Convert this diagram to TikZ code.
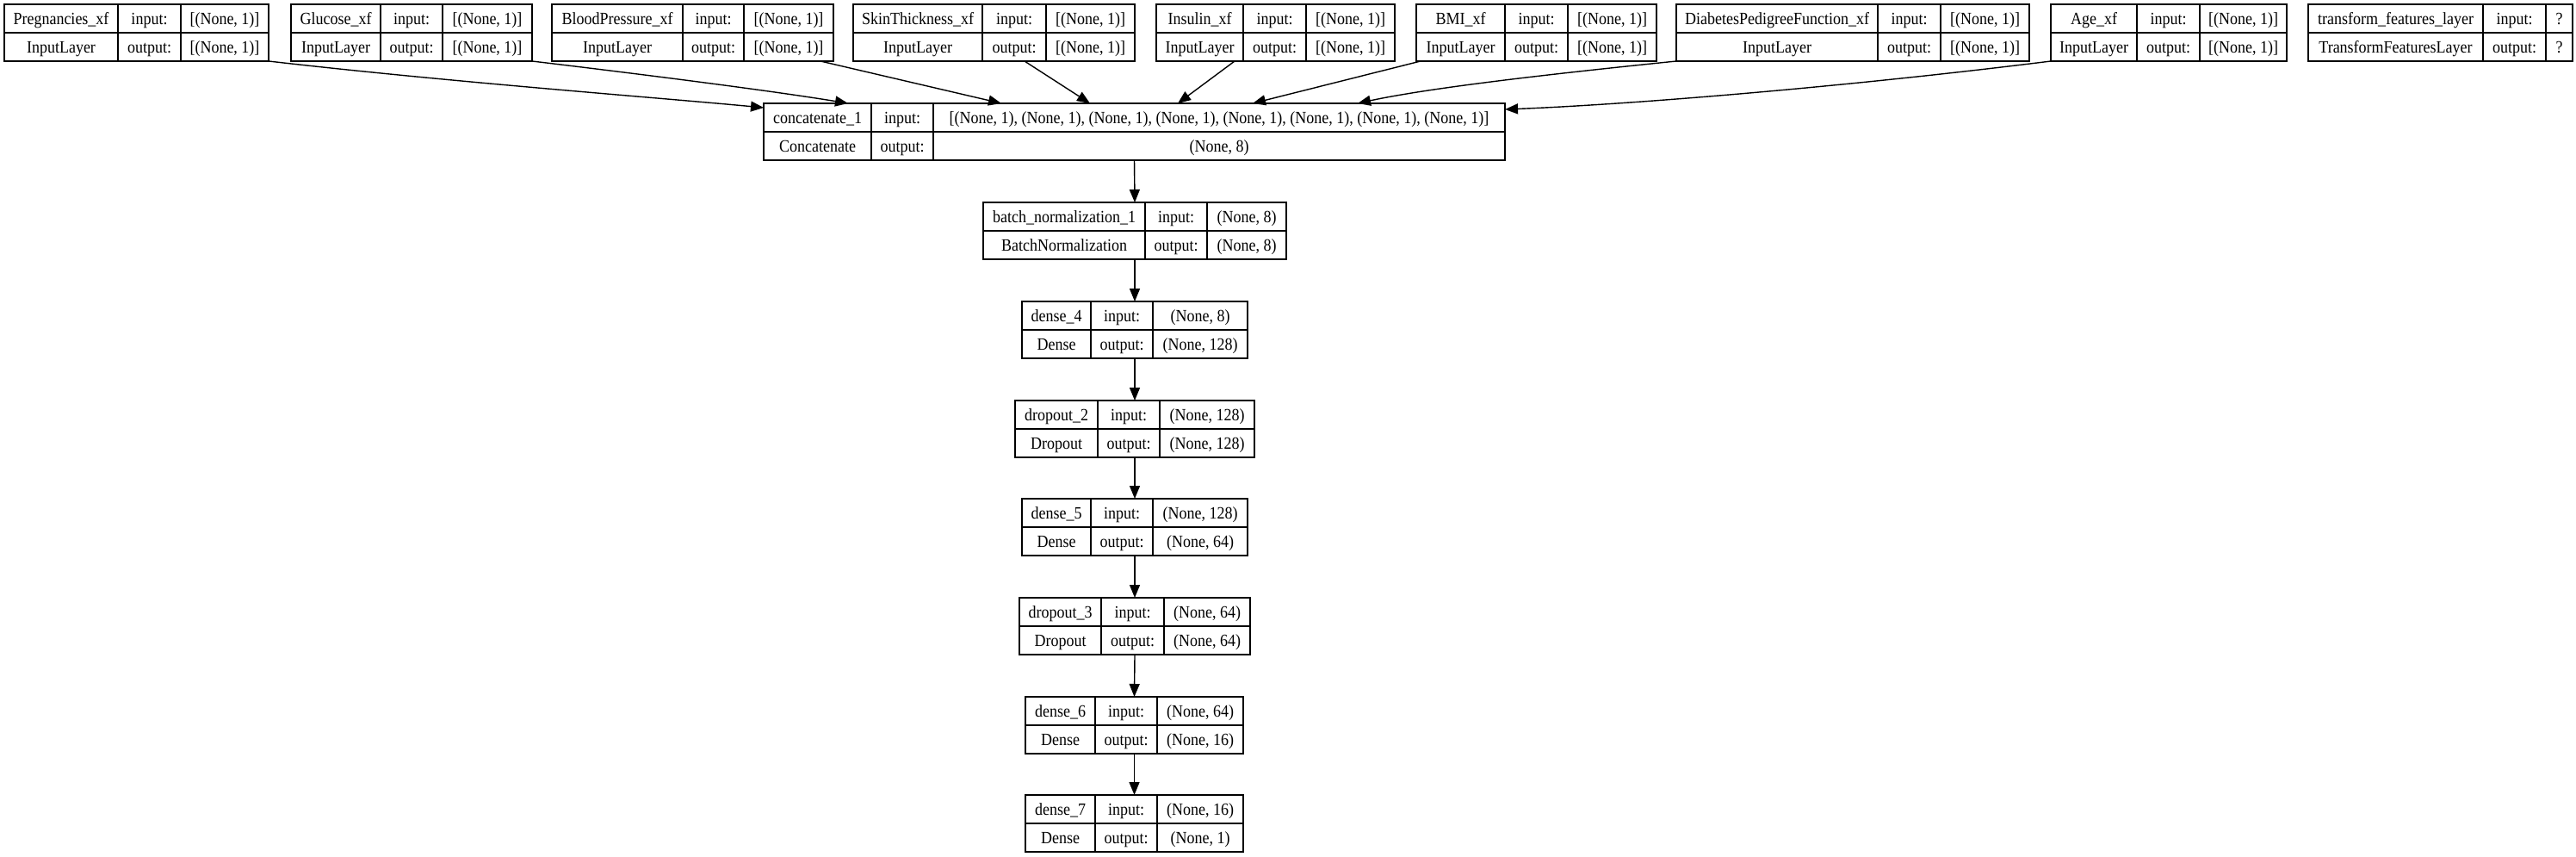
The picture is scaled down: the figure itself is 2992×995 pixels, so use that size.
\documentclass[tikz,border=0pt]{standalone}
\usepackage{fontspec}
\setmainfont{Liberation Serif}[FakeStretch=0.9]
\usetikzlibrary{arrows.meta}
\tikzset{
  lbox/.style={draw=black, line width=0.7pt, rectangle, inner sep=0pt, outer sep=0pt},
  cellline/.style={draw=black, line width=0.7pt},
  txt/.style={inner sep=0pt, font=\fontsize{10}{12}\selectfont, text height=7pt, text depth=0pt, anchor=center},
  edge/.style={draw=black, line width=0.7pt, -{Triangle[length=7.5pt,width=6pt]}},
}
\newcommand\lay[9]{\def\Ln{#1}\def\La{#2}\def\Lb{#3}\def\Lc{#4}\def\Ld{#5}\def\Ly{#6}\def\Lp{#7}\def\Lq{#8}\def\Lr{#9}\layrest}
\newcommand\layrest[1]{%
 \node[lbox, minimum width={(\Ld-\La)*0.5pt}, minimum height=33pt] (\Ln) at ({(\La+\Ld)/2},{\Ly+33}) {};
 \draw[cellline] (\Lb,\Ly) -- (\Lb,\Ly+66) (\Lc,\Ly) -- (\Lc,\Ly+66) (\La,\Ly+33) -- (\Ld,\Ly+33);
 \node[txt] (\Ln-n) at ({(\La+\Lb)/2},{\Ly+16.5}) {\Lp};
 \node[txt] (\Ln-c) at ({(\La+\Lb)/2},{\Ly+49.5}) {\Lq};
 \node[txt] (\Ln-i) at ({(\Lb+\Lc)/2},{\Ly+16.5}) {input:};
 \node[txt] (\Ln-o) at ({(\Lb+\Lc)/2},{\Ly+49.5}) {output:};
 \node[txt] (\Ln-iv) at ({(\Lc+\Ld)/2},{\Ly+16.5}) {\Lr};
 \node[txt] (\Ln-ov) at ({(\Lc+\Ld)/2},{\Ly+49.5}) {#1};
}
\begin{document}
\begin{tikzpicture}[x=0.5pt,y=-0.5pt]
\useasboundingbox (0,0) rectangle (2992,995);
% input layers
\lay{preg}{5}{137}{210}{312}{5}{Pregnancies\_xf}{InputLayer}{[(None, 1)]}{[(None, 1)]}
\lay{gluc}{338}{442}{514}{618}{5}{Glucose\_xf}{InputLayer}{[(None, 1)]}{[(None, 1)]}
\lay{bp}{641}{793}{864}{968}{5}{BloodPressure\_xf}{InputLayer}{[(None, 1)]}{[(None, 1)]}
\lay{skin}{991}{1141}{1215}{1318}{5}{SkinThickness\_xf}{InputLayer}{[(None, 1)]}{[(None, 1)]}
\lay{insu}{1343}{1444}{1517}{1620}{5}{Insulin\_xf}{InputLayer}{[(None, 1)]}{[(None, 1)]}
\lay{bmi}{1645}{1748}{1821}{1924}{5}{BMI\_xf}{InputLayer}{[(None, 1)]}{[(None, 1)]}
\lay{dpf}{1947}{2181}{2254}{2357}{5}{DiabetesPedigreeFunction\_xf}{InputLayer}{[(None, 1)]}{[(None, 1)]}
\lay{age}{2382}{2482}{2555}{2656}{5}{Age\_xf}{InputLayer}{[(None, 1)]}{[(None, 1)]}
\lay{tfl}{2681}{2884}{2957}{2988}{5}{transform\_features\_layer}{TransformFeaturesLayer}{?}{?}
% chain
\lay{concat}{887}{1012}{1084}{1748}{120}{concatenate\_1}{Concatenate}{[(None, 1), (None, 1), (None, 1), (None, 1), (None, 1), (None, 1), (None, 1), (None, 1)]}{(None, 8)}
\lay{bn}{1142}{1330}{1402}{1494}{235}{batch\_normalization\_1}{BatchNormalization}{(None, 8)}{(None, 8)}
\lay{dfour}{1187}{1267}{1339}{1449}{350}{dense\_4}{Dense}{(None, 8)}{(None, 128)}
\lay{dotwo}{1179}{1275}{1347}{1457}{465}{dropout\_2}{Dropout}{(None, 128)}{(None, 128)}
\lay{dfive}{1187}{1267}{1339}{1449}{579}{dense\_5}{Dense}{(None, 128)}{(None, 64)}
\lay{dothree}{1184}{1279}{1352}{1452}{694}{dropout\_3}{Dropout}{(None, 64)}{(None, 64)}
\lay{dsix}{1191}{1272}{1344}{1444}{809}{dense\_6}{Dense}{(None, 64)}{(None, 16)}
\lay{dseven}{1191}{1272}{1344}{1444}{923}{dense\_7}{Dense}{(None, 16)}{(None, 1)}
% connector end points
\coordinate (cin1) at (887,125);
\coordinate (cin2) at (985,120);
\coordinate (cin3) at (1163,120);
\coordinate (cin4) at (1266,120);
\coordinate (cin5) at (1368,120);
\coordinate (cin6) at (1455,120);
\coordinate (cin7) at (1577,120);
\coordinate (cin8) at (1748,127);
\coordinate (bpS) at (953,71);
\coordinate (skinS) at (1190,71);
\coordinate (insuS) at (1434,71);
\coordinate (bmiS) at (1650,71);
% input edges
\draw[edge] (preg.south east) .. controls (520,95) and (760,113) .. (cin1);
\draw[edge] (gluc.south east) .. controls (760,88) and (900,106) .. (cin2);
\draw[edge] (bpS) -- (cin3);
\draw[edge] (skinS) -- (cin4);
\draw[edge] (insuS) -- (cin5);
\draw[edge] (bmiS) -- (cin6);
\draw[edge] (dpf.south west) .. controls (1800,86) and (1660,102) .. (cin7);
\draw[edge] (age.south west) .. controls (2150,100) and (1900,121) .. (cin8);
% chain edges
\draw[edge] (concat.south) -- (bn.north);
\draw[edge] (bn.south) -- (dfour.north);
\draw[edge] (dfour.south) -- (dotwo.north);
\draw[edge] (dotwo.south) -- (dfive.north);
\draw[edge] (dfive.south) -- (dothree.north);
\draw[edge] (dothree.south) -- (dsix.north);
\draw[edge] (dsix.south) -- (dseven.north);
\end{tikzpicture}
\end{document}
